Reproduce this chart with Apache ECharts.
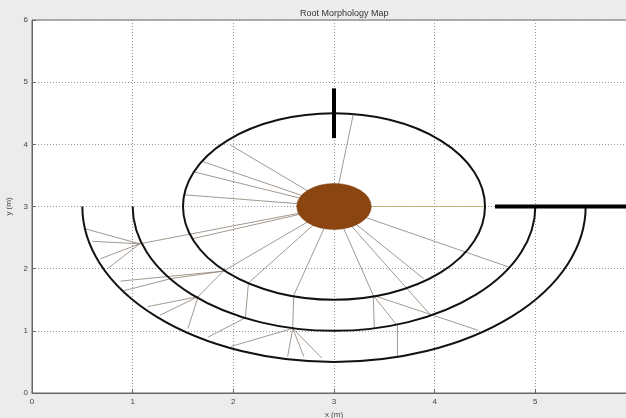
<!DOCTYPE html>
<html>
<head>
<meta charset="utf-8">
<script src="https://cdn.jsdelivr.net/npm/echarts@6/dist/echarts.min.js"></script>
<style>
  html, body { margin: 0; padding: 0; background: #ececec; }
  #main { width: 626px; height: 418px; }
</style>
</head>
<body>
<div id="main"></div>
<script>
// axis ticks
var xTicks = [0, 1, 2, 3, 4, 5, 6];
var yTicks = [0, 1, 2, 3, 4, 5, 6];

// stem at the middle, [cx, cy, r]
var stem = [[3, 3, 0.37]];
// full ring round the stem, [cx, cy, r]
var rings = [[3, 3, 1.5]];
// lower half arcs, [cx, cy, r]
var halfArcs = [[3, 3, 2], [3, 3, 2.5]];
// thick bars, [x1, y1, x2, y2]
var bars = [[3, 4.1, 3, 4.9], [4.6, 3, 6, 3]];

// root segments, [x1, y1, x2, y2]
var roots = [
    [3, 3, 1.97, 3.99], [3, 3, 1.70, 3.72], [3, 3, 1.60, 3.56], [3, 3, 1.50, 3.19],
    [3, 3, 3.19, 4.47],
    [3, 3, 1.07, 2.40], [3, 3, 1.59, 2.48], [3, 3, 1.90, 1.96], [3, 3, 2.15, 1.77],
    [3, 3, 2.60, 1.57], [3, 3, 3.39, 1.57], [3, 3, 3.89, 1.84], [3, 3, 4.73, 2.03],
    [3, 3, 3.95, 1.27],
    [1.07, 2.40, 0.53, 2.64], [1.07, 2.40, 0.60, 2.44], [1.07, 2.40, 0.68, 2.16], [1.07, 2.40, 0.75, 2.00],
    [1.90, 1.96, 0.88, 1.80], [1.38, 1.84, 0.90, 1.64], [1.90, 1.96, 1.38, 1.84],
    [1.90, 1.96, 1.65, 1.55], [1.65, 1.55, 1.15, 1.39], [1.65, 1.55, 1.27, 1.25], [1.65, 1.55, 1.55, 1.04],
    [2.15, 1.77, 2.12, 1.21], [2.12, 1.21, 1.75, 0.90],
    [2.60, 1.57, 2.59, 1.04], [2.59, 1.04, 2.54, 0.59], [2.59, 1.04, 2.70, 0.59], [2.59, 1.04, 2.88, 0.56],
    [2.59, 1.04, 1.98, 0.75],
    [3.39, 1.57, 3.40, 1.05], [3.39, 1.57, 3.63, 1.08], [3.63, 1.08, 3.63, 0.60], [3.39, 1.57, 4.43, 1.01]
];
// the one root drawn in olive
var rootRight = [[3, 3, 4.5, 3]];

var chart = echarts.init(document.getElementById('main'));

function segItem(color, width) {
    return function (params, api) {
        var a = api.coord([api.value(0), api.value(1)]);
        var b = api.coord([api.value(2), api.value(3)]);
        return {
            type: 'line',
            shape: {x1: a[0], y1: a[1], x2: b[0], y2: b[1]},
            style: {stroke: color, lineWidth: width, fill: null}
        };
    };
}

function ellipseItem(kind) {
    return function (params, api) {
        var c = api.coord([api.value(0), api.value(1)]);
        var r = api.value(2);
        var rx = api.size([r, 0])[0];
        var ry = api.size([0, r])[1];
        var x1 = c[0] - rx, x2 = c[0] + rx, y = c[1];
        var d;
        if (kind === 'half') {
            d = 'M' + x1 + ' ' + y + ' A' + rx + ' ' + ry + ' 0 0 0 ' + x2 + ' ' + y;
        } else {
            d = 'M' + x1 + ' ' + y + ' A' + rx + ' ' + ry + ' 0 1 0 ' + x2 + ' ' + y +
                ' A' + rx + ' ' + ry + ' 0 1 0 ' + x1 + ' ' + y + ' Z';
        }
        var style = kind === 'fill'
            ? {fill: '#8a4510', stroke: '#7a3c0c', lineWidth: 0.5}
            : {fill: null, stroke: '#111', lineWidth: 2};
        return {type: 'path', shape: {pathData: d}, style: style};
    };
}

var option = {
    backgroundColor: '#ececec',
    animation: false,
    title: {
        text: 'Root Morphology Map',
        left: 295,
        top: 4,
        textStyle: {fontSize: 9, fontWeight: 'normal', color: '#333', fontFamily: 'Liberation Sans'}
    },
    grid: {
        left: 32, top: 20, bottom: 25, right: -10,
        outerBoundsMode: 'none', containLabel: false,
        show: true, backgroundColor: '#fff', borderColor: '#666', borderWidth: 1
    },
    xAxis: {
        type: 'value', min: 0, max: 6, interval: 1,
        name: 'x (m)', nameLocation: 'middle', nameGap: 13,
        nameTextStyle: {fontSize: 8, color: '#444'},
        axisLine: {lineStyle: {color: '#666'}},
        axisTick: {inside: true, length: 4, lineStyle: {color: '#666'}},
        axisLabel: {fontSize: 8, color: '#444', margin: 5,
            formatter: function (v) { return xTicks.indexOf(v) >= 0 ? String(v) : ''; }},
        splitLine: {lineStyle: {color: '#999', type: [1, 2]}}
    },
    yAxis: {
        type: 'value', min: 0, max: 6, interval: 1,
        name: 'y (m)', nameLocation: 'middle', nameGap: 14,
        nameTextStyle: {fontSize: 8, color: '#444'},
        axisLine: {show: true, lineStyle: {color: '#666'}},
        axisTick: {show: true, inside: true, length: 4, lineStyle: {color: '#666'}},
        axisLabel: {fontSize: 8, color: '#444', margin: 4,
            formatter: function (v) { return yTicks.indexOf(v) >= 0 ? String(v) : ''; }},
        splitLine: {lineStyle: {color: '#999', type: [1, 2]}}
    },
    series: [
        {type: 'custom', name: 'roots', data: roots, encode: {x: [0, 2], y: [1, 3]},
            renderItem: segItem('#8c7f72', 0.8), silent: true, z: 2},
        {type: 'custom', name: 'rootRight', data: rootRight, encode: {x: [0, 2], y: [1, 3]},
            renderItem: segItem('#b8aa55', 0.8), silent: true, z: 2},
        {type: 'custom', name: 'rings', data: rings, encode: {x: 0, y: 1},
            renderItem: ellipseItem('full'), silent: true, z: 3},
        {type: 'custom', name: 'arcs', data: halfArcs, encode: {x: 0, y: 1},
            renderItem: ellipseItem('half'), silent: true, z: 3},
        {type: 'custom', name: 'bars', data: bars, encode: {x: [0, 2], y: [1, 3]},
            renderItem: segItem('#000', 4), silent: true, z: 4},
        {type: 'custom', name: 'stem', data: stem, encode: {x: 0, y: 1},
            renderItem: ellipseItem('fill'), silent: true, z: 5}
    ]
};

chart.setOption(option);
</script>
</body>
</html>
